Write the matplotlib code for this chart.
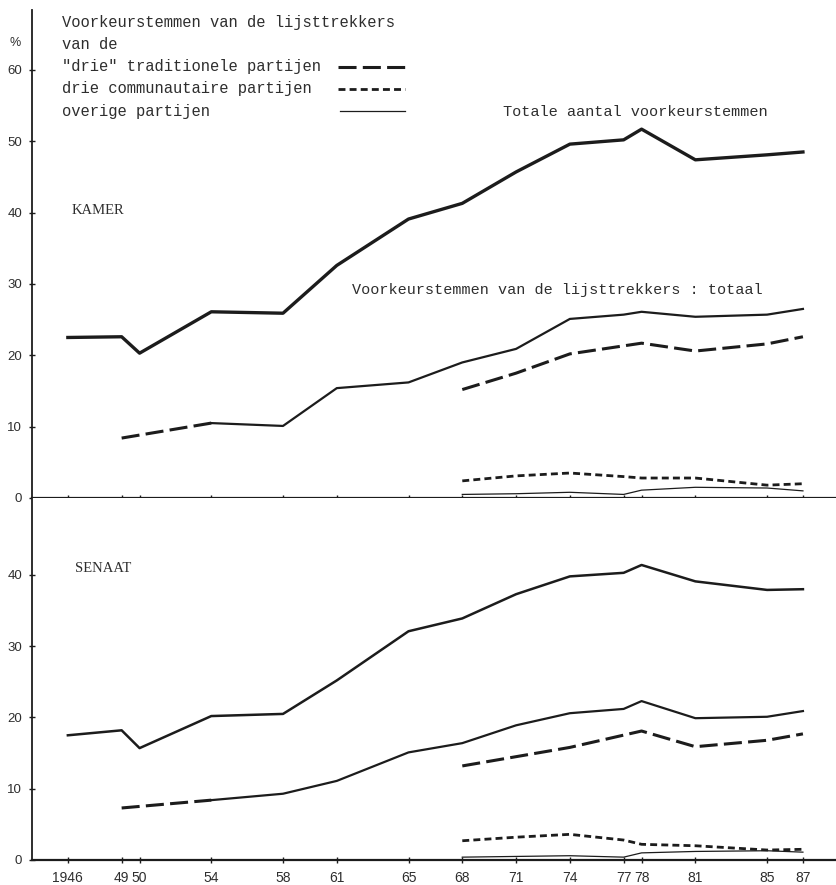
import numpy as np
import matplotlib.pyplot as plt
from matplotlib.lines import Line2D

plt.rcParams['lines.scale_dashes'] = False

years_all = [1946, 1949, 1950, 1954, 1958, 1961, 1965, 1968, 1971, 1974, 1977, 1978, 1981, 1985, 1987]
year_labels = ["1946", "49", "50", "54", "58", "61", "65", "68", "71", "74", "77", "78", "81", "85", "87"]

# KAMER
kamer_totaal = [22.5, 22.6, 20.3, 26.1, 25.9, 32.6, 39.1, 41.3, 45.7, 49.6, 50.2, 51.7, 47.4, 48.1, 48.5]
lijst_years = [1954, 1958, 1961, 1965, 1968, 1971, 1974, 1977, 1978, 1981, 1985, 1987]
kamer_lijst = [10.5, 10.1, 15.4, 16.2, 19.0, 20.9, 25.1, 25.7, 26.1, 25.4, 25.7, 26.5]
trad_years = [1949, 1954, 1961, 1968, 1971, 1974, 1978, 1981, 1985, 1987]
kamer_trad = [8.4, 10.5, np.nan, 15.2, 17.5, 20.2, 21.7, 20.6, 21.6, 22.6]
small_years = [1968, 1971, 1974, 1977, 1978, 1981, 1985, 1987]
kamer_comm = [2.4, 3.1, 3.5, 3.0, 2.8, 2.8, 1.8, 2.0]
kamer_over = [0.5, 0.6, 0.8, 0.5, 1.1, 1.5, 1.4, 1.0]

# SENAAT
senaat_totaal = [17.5, 18.2, 15.7, 20.2, 20.5, 25.2, 32.1, 33.9, 37.3, 39.8, 40.3, 41.4, 39.1, 37.9, 38.0]
senaat_lijst = [8.4, 9.3, 11.1, 15.1, 16.4, 18.9, 20.6, 21.2, 22.3, 19.9, 20.1, 20.9]
senaat_trad = [7.3, 8.4, np.nan, 13.2, 14.5, 15.8, 18.1, 15.9, 16.8, 17.7]
senaat_comm = [2.7, 3.2, 3.6, 2.8, 2.2, 2.0, 1.4, 1.5]
senaat_over = [0.4, 0.5, 0.6, 0.4, 1.0, 1.2, 1.3, 1.1]

ink = '#1c1c1c'
txt = '#2e2e2e'
mono = 'Liberation Mono'

W, H = 837, 885
fig = plt.figure(figsize=(W / 100, H / 100), dpi=100)


def fx(px):
    return px / W


def fy(py):
    return 1 - py / H


ax_k = fig.add_axes([fx(32), fy(498), 1 - fx(32), (498 - 10) / H])
ax_s = fig.add_axes([fx(32), fy(860), 1 - fx(32), (860 - 498) / H], sharex=ax_k)


def draw_panel(ax, totaal, lijst, trad, comm, over, lw_tot):
    ax.plot(years_all, totaal, color=ink, lw=lw_tot)
    ax.plot(lijst_years, lijst, color=ink, lw=1.6)
    ax.plot(trad_years, trad, color=ink, lw=2.2, dashes=(13, 4.5))
    ax.plot(small_years, comm, color=ink, lw=2.0, dashes=(5, 3))
    ax.plot(small_years, over, color=ink, lw=0.9)
    for s in ['top', 'right']:
        ax.spines[s].set_visible(False)
    ax.spines['bottom'].set_linewidth(1.6)
    ax.spines['left'].set_linewidth(1.3)
    ax.spines['bottom'].set_color(ink)
    ax.spines['left'].set_color(ink)
    ax.tick_params(direction='inout', length=4, width=1, color=ink,
                   labelcolor=txt, labelsize=9.5)
    ax.tick_params(axis='y', pad=5)
    ax.tick_params(axis='x', pad=6, labelsize=10)


draw_panel(ax_k, kamer_totaal, kamer_lijst, kamer_trad, kamer_comm, kamer_over, 2.4)
draw_panel(ax_s, senaat_totaal, senaat_lijst, senaat_trad, senaat_comm, senaat_over, 1.8)

ax_k.set_xlim(1944.0, 1988.9)
ax_k.set_ylim(0, 68.4)
ax_k.set_yticks([0, 10, 20, 30, 40, 50, 60])
ax_s.set_ylim(0, 50.8)
ax_s.set_yticks([0, 10, 20, 30, 40])
ax_s.set_xticks(years_all)
ax_s.set_xticklabels(year_labels)
ax_k.tick_params(axis='x', labelbottom=False)
for ax in (ax_k, ax_s):
    for lab in ax.get_yticklabels() + ax.get_xticklabels():
        lab.set_fontfamily('Liberation Sans')

# texts
fig.text(fx(9), fy(43), '%', fontsize=9, color=txt, va='center', family='Liberation Sans')
legend_lines = ['Voorkeurstemmen van de lijsttrekkers', 'van de',
                '"drie" traditionele partijen', 'drie communautaire partijen',
                'overige partijen']
for i, s in enumerate(legend_lines):
    fig.text(fx(62), fy(22 + 22.3 * i), s, fontsize=11.2, family=mono,
             color=txt, va='center')

# legend keys
fig.add_artist(Line2D([fx(338), fx(405)], [fy(67), fy(67)], color=ink, lw=2.2, dashes=(13, 4.5)))
fig.add_artist(Line2D([fx(338), fx(405)], [fy(89), fy(89)], color=ink, lw=2.0, dashes=(5, 3)))
fig.add_artist(Line2D([fx(340), fx(405)], [fy(111), fy(111)], color=ink, lw=0.9))

fig.text(fx(503), fy(112), 'Totale aantal voorkeurstemmen', fontsize=11.0,
         family=mono, color=txt, va='center')
fig.text(fx(352), fy(290), 'Voorkeurstemmen van de lijsttrekkers : totaal',
         fontsize=10.9, family=mono, color=txt, va='center')

fig.text(fx(72), fy(211), 'KAMER', fontsize=10.5, family='Liberation Serif',
         color=txt, va='center')
fig.text(fx(75), fy(568), 'SENAAT', fontsize=10.5, family='Liberation Serif',
         color=txt, va='center')

fig.savefig('out.png', dpi=100, facecolor='white')
